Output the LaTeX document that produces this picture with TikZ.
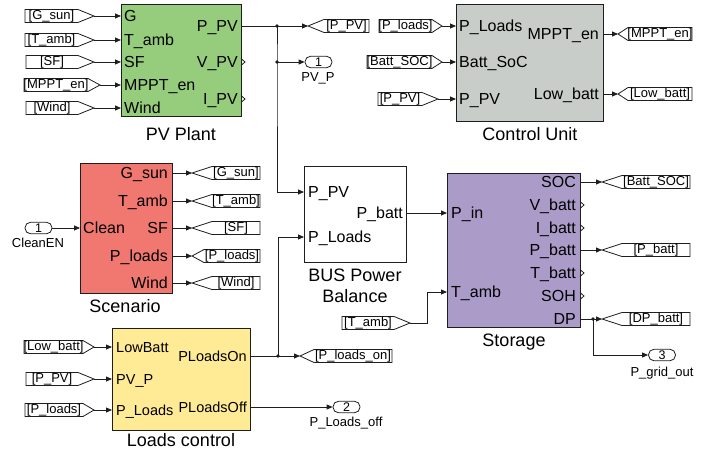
\documentclass[tikz,border=0pt]{standalone}
\usepackage{fontspec}
\setmainfont{Liberation Sans}
\usetikzlibrary{arrows.meta}
\definecolor{pvgreen}{RGB}{150,205,125}
\definecolor{ctrlgrey}{RGB}{200,205,202}
\definecolor{scenred}{RGB}{240,120,112}
\definecolor{storlav}{RGB}{170,155,201}
\definecolor{loadyel}{RGB}{255,234,150}
\definecolor{ink}{RGB}{30,30,30}
\tikzset{
 blk/.style={draw=ink, line width=0.9pt, anchor=north west, inner sep=0pt},
 wire/.style={draw=ink, line width=0.8pt},
 sig/.style={wire, -{Triangle[length=6pt,width=5pt]}},
 plab/.style={font=\fontsize{16}{16}\selectfont, inner sep=0pt, text height=11.5pt, text depth=0pt},
 plabl/.style={plab, anchor=west},
 plabr/.style={plab, anchor=east},
 slab/.style={font=\fontsize{14.5}{14.5}\selectfont, inner sep=0pt, text height=10.4pt, text depth=0pt},
 slabl/.style={slab, anchor=west},
 slabr/.style={slab, anchor=east},
 bname/.style={font=\fontsize{18}{18}\selectfont, inner sep=0pt, text height=13pt, text depth=0pt},
 tagtxt/.style={font=\fontsize{13}{13}\selectfont, inner sep=0pt, text height=9.5pt, text depth=2.7pt},
 olab/.style={font=\fontsize{13}{13}\selectfont, inner sep=0pt, text height=9.3pt, text depth=0pt},
 oport/.style={draw=ink, line width=0.8pt, rounded corners=5.5pt, minimum width=27pt, minimum height=11.5pt, inner sep=0pt, font=\fontsize{12.5}{12.5}\selectfont},
}
% From tag (points right): name, left, tip, depth, y, text
\newcommand{\FromTag}[6]{%
 \draw[wire, fill=white] (#2,#5-6.5) -- (#3-#4,#5-6.5) -- (#3,#5) -- (#3-#4,#5+6.5) -- (#2,#5+6.5) -- cycle;
 \node[tagtxt] at ({(#2+#3-#4)/2},#5) {#6};
 \coordinate (#1) at (#3,#5);}
% Goto tag (points left): name, tip, right, depth, y, text
\newcommand{\GotoTag}[6]{%
 \draw[wire, fill=white] (#2,#5) -- (#2+#4,#5-6.5) -- (#3,#5-6.5) -- (#3,#5+6.5) -- (#2+#4,#5+6.5) -- cycle;
 \node[tagtxt] at ({(#2+#4+#3)/2},#5) {#6};
 \coordinate (#1) at (#2,#5);}
% unconnected output chevron
\newcommand{\Chev}[2]{\draw[wire] (#1,#2-3.5) -- (#1+4,#2) -- (#1,#2+3.5);}
\newcommand{\Jdot}[1]{\fill[ink] (#1) circle (1.9);}
\begin{document}
\begin{tikzpicture}[x=1pt,y=-1pt]
\useasboundingbox (0,0) rectangle (719,452);

% ---------------- PV Plant ----------------
\node[blk, fill=pvgreen, minimum width=120pt, minimum height=112pt] (pv) at (121,4) {};
\node[plabl] (pvG) at (124,16) {G};
\node[plabl] (pvT) at (124,40) {T\_amb};
\node[plabl] (pvS) at (124,62) {SF};
\node[plabl] (pvM) at (124,85) {MPPT\_en};
\node[plabl] (pvW) at (124,108) {Wind};
\node[plabr] (pvP) at (238,26) {P\_PV};
\node[plabr] (pvV) at (238,62) {V\_PV};
\node[plabr] (pvI) at (238,99) {I\_PV};
\node[bname] (pvname) at (181,134) {PV Plant};
\Chev{241}{62}
\Chev{241}{99}

\FromTag{fG}{25}{94}{16}{16}{[G\_sun]}
\FromTag{fT}{25}{94}{16}{40}{[T\_amb]}
\FromTag{fS}{26}{94}{16}{62}{[SF]}
\FromTag{fM}{24}{100}{12}{85}{[MPPT\_en]}
\FromTag{fW}{26}{94}{16}{108}{[Wind]}
\draw[sig] (fG) -- (fG -| pv.west);
\draw[sig] (fT) -- (fT -| pv.west);
\draw[sig] (fS) -- (fS -| pv.west);
\draw[sig] (fM) -- (fM -| pv.west);
\draw[sig] (fW) -- (fW -| pv.west);

% PV output branching
\coordinate (j1) at (277,26);
\coordinate (j2) at (277,62);
\GotoTag{gPPV}{308}{369}{16}{26}{[P\_PV]}
\node[oport] (o1) at (318.5,62) {1};
\node[olab] (o1lab) at (318,77) {PV\_P};

% ---------------- BUS Power Balance ----------------
\node[blk, fill=white, minimum width=102pt, minimum height=96pt] (bus) at (304,166) {};
\node[plabl] (busA) at (308,192) {P\_PV};
\node[plabl] (busB) at (308,237) {P\_Loads};
\node[plabr] (busC) at (403,213) {P\_batt};
\node[bname] (busname1) at (355,275) {BUS Power};
\node[bname] (busname2) at (355,296) {Balance};
\coordinate (busin1) at (304,192);
\coordinate (busin2) at (304,237);

\draw[wire] (pv.east |- j1) -- (j1);
\draw[sig] (j1) -- (gPPV);
\draw[sig] (j1) -- (j2) -- (j2 |- busin1) -- (busin1);
\draw[sig] (j2) -- (o1.west);
\Jdot{j1}
\Jdot{j2}

% ---------------- Control Unit ----------------
\node[blk, fill=ctrlgrey, minimum width=147pt, minimum height=117pt] (cu) at (456,4) {};
\node[plabl] (cuA) at (459,26) {P\_Loads};
\node[plabl] (cuB) at (459,62) {Batt\_SoC};
\node[plabl] (cuC) at (459,99) {P\_PV};
\node[plabr] (cuD) at (599,34) {MPPT\_en};
\node[plabr] (cuE) at (599,94) {Low\_batt};
\node[bname] (cuname) at (530,134) {Control Unit};
\FromTag{fPL}{379}{442}{10}{26}{[P\_loads]}
\FromTag{fBS}{367}{442}{10}{62}{[Batt\_SOC]}
\FromTag{fPP}{378}{438}{16}{99}{[P\_PV]}
\draw[sig] (fPL) -- (fPL -| cu.west);
\draw[sig] (fBS) -- (fBS -| cu.west);
\draw[sig] (fPP) -- (fPP -| cu.west);
\GotoTag{gMP}{618}{692}{10}{34}{[MPPT\_en]}
\GotoTag{gLB}{618}{692}{10}{94}{[Low\_batt]}
\draw[sig] (gMP -| cu.east) -- (gMP);
\draw[sig] (gLB -| cu.east) -- (gLB);

% ---------------- Scenario ----------------
\node[blk, fill=scenred, minimum width=92pt, minimum height=130pt] (sc) at (80,163) {};
\node[plabl] (scA) at (83,228) {Clean};
\node[plabr] (scB) at (168,173) {G\_sun};
\node[plabr] (scC) at (168,201) {T\_amb};
\node[plabr] (scD) at (168,228) {SF};
\node[plabr] (scE) at (168,256) {P\_loads};
\node[plabr] (scF) at (168,283) {Wind};
\node[bname] (scname) at (125,306) {Scenario};
\node[oport] (i1) at (38.5,228) {1};
\node[olab] (i1lab) at (38,243) {CleanEN};
\draw[sig] (i1.east) -- (i1.east -| sc.west);
\GotoTag{gG}{192}{260}{20}{173}{[G\_sun]}
\GotoTag{gT}{192}{260}{20}{201}{[T\_amb]}
\GotoTag{gS}{192}{260}{20}{228}{[SF]}
\GotoTag{gP}{192}{260}{12}{256}{[P\_loads]}
\GotoTag{gW}{192}{260}{20}{283}{[Wind]}
\draw[sig] (gG -| sc.east) -- (gG);
\draw[sig] (gT -| sc.east) -- (gT);
\draw[sig] (gS -| sc.east) -- (gS);
\draw[sig] (gP -| sc.east) -- (gP);
\draw[sig] (gW -| sc.east) -- (gW);

% ---------------- Storage ----------------
\node[blk, fill=storlav, minimum width=133pt, minimum height=154pt] (st) at (447,173) {};
\node[plabl] (stA) at (451,213) {P\_in};
\node[plabl] (stB) at (451,292) {T\_amb};
\node[plabr] (stC) at (576,182) {SOC};
\node[plabr] (stD) at (576,205) {V\_batt};
\node[plabr] (stE) at (576,228) {I\_batt};
\node[plabr] (stF) at (576,250) {P\_batt};
\node[plabr] (stG) at (576,273) {T\_batt};
\node[plabr] (stH) at (576,296) {SOH};
\node[plabr] (stI) at (576,319) {DP};
\node[bname] (stname) at (514,340) {Storage};
\Chev{580}{205}
\Chev{580}{228}
\Chev{580}{273}
\Chev{580}{296}
\coordinate (stin1) at (447,213);
\coordinate (stin2) at (447,292);
\draw[sig] (bus.east |- stin1) -- (stin1);
\FromTag{fTA}{342}{410}{16}{323}{[T\_amb]}
\coordinate (bend1) at (427,323);
\draw[sig] (fTA) -- (bend1) -- (bend1 |- stin2) -- (stin2);
\GotoTag{gSOC}{602}{690}{20}{182}{[Batt\_SOC]}
\GotoTag{gPB}{602}{690}{20}{250}{[P\_batt]}
\GotoTag{gDP}{602}{690}{20}{319}{[DP\_batt]}
\draw[sig] (gSOC -| st.east) -- (gSOC);
\draw[sig] (gPB -| st.east) -- (gPB);
\coordinate (j3) at (593,319);
\draw[wire] (gDP -| st.east) -- (j3);
\draw[sig] (j3) -- (gDP);
\node[oport] (o3) at (662,355) {3};
\node[olab] (o3lab) at (662,372) {P\_grid\_out};
\draw[sig] (j3) -- (j3 |- o3.west) -- (o3.west);
\Jdot{j3}

% ---------------- Loads control ----------------
\node[blk, fill=loadyel, minimum width=138pt, minimum height=102pt] (lc) at (112,328) {};
\node[slabl] (lcA) at (116,347) {LowBatt};
\node[slabl] (lcB) at (116,379) {PV\_P};
\node[slabl] (lcC) at (116,410) {P\_Loads};
\node[slabr] (lcD) at (247,356) {PLoadsOn};
\node[slabr] (lcE) at (247,407) {PLoadsOff};
\node[bname] (lcname) at (181,440) {Loads control};
\FromTag{fLB}{24}{94}{11}{347}{[Low\_batt]}
\FromTag{fLP}{26}{94}{16}{379}{[P\_PV]}
\FromTag{fLL}{25}{94}{11}{410}{[P\_loads]}
\draw[sig] (fLB) -- (fLB -| lc.west);
\draw[sig] (fLP) -- (fLP -| lc.west);
\draw[sig] (fLL) -- (fLL -| lc.west);
\coordinate (j4) at (278,356);
\GotoTag{gPLO}{300}{392}{14}{356}{[P\_loads\_on]}
\draw[wire] (j4 -| lc.east) -- (j4);
\draw[sig] (j4) -- (gPLO);
\draw[sig] (j4) -- (j4 |- busin2) -- (busin2);
\Jdot{j4}
\node[oport] (o2) at (346.5,407) {2};
\node[olab] (o2lab) at (346,422) {P\_Loads\_off};
\draw[sig] (o2.west -| lc.east) -- (o2.west);

\end{tikzpicture}
\end{document}
